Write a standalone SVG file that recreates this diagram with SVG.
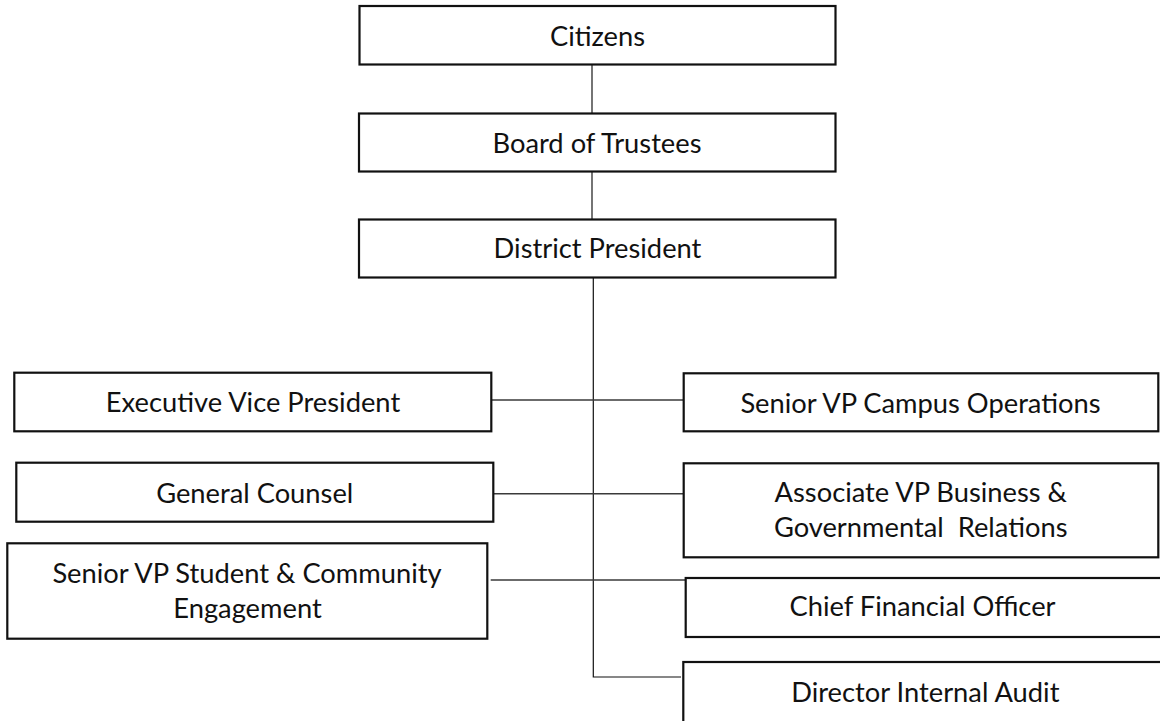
<svg xmlns="http://www.w3.org/2000/svg" width="1160" height="721" viewBox="0 0 1160 721">
<style>
.box{fill:#fff;stroke:#111;stroke-width:2.2}
.lbl{font-family:Lato,"Open Sans","Liberation Sans",sans-serif;font-size:27.3px;fill:#111;text-anchor:middle}
.conn{fill:none;stroke:#3a3a3a;stroke-width:1.4}
</style>
<rect width="1160" height="721" fill="#fff"/>
<g id="connectors">
<line class="conn" x1="592" y1="64.5" x2="592" y2="113.5"/>
<line class="conn" x1="592" y1="171.5" x2="592" y2="219.5"/>
<polyline class="conn" style="stroke:#111;stroke-width:1.2" points="593.3,277.5 593.3,677 681,677"/>
<line class="conn" x1="491" y1="400" x2="684" y2="400"/>
<line class="conn" x1="490.7" y1="493.7" x2="684" y2="493.7"/>
<line class="conn" x1="490.7" y1="580" x2="685.5" y2="580"/>
</g>
<g id="citizens"><rect class="box" x="359.5" y="6" width="476" height="58.5"/><text class="lbl" x="597.5" y="46">Citizens</text></g>
<g id="board"><rect class="box" x="359" y="113.5" width="476.5" height="58"/><text class="lbl" x="597" y="152.7">Board of Trustees</text></g>
<g id="president"><rect class="box" x="359" y="219.5" width="476.5" height="58"/><text class="lbl" x="597.5" y="258.3">District President</text></g>
<g id="evp"><rect class="box" x="14.3" y="372.7" width="477" height="58.6"/><text class="lbl" x="253" y="412.3">Executive Vice President</text></g>
<g id="counsel"><rect class="box" x="16.3" y="462.7" width="477" height="59"/><text class="lbl" x="254.7" y="502.7">General Counsel</text></g>
<g id="svp-student"><rect class="box" x="7.3" y="543.3" width="480" height="95.4"/><text class="lbl" x="247" y="583.3">Senior VP Student &amp; Community</text><text class="lbl" x="247.5" y="618.3">Engagement</text></g>
<g id="svp-campus"><rect class="box" x="683.7" y="373.3" width="474.6" height="58"/><text class="lbl" x="920.5" y="412.7">Senior VP Campus Operations</text></g>
<g id="assoc-vp"><rect class="box" x="683.7" y="463.3" width="474.6" height="94"/><text class="lbl" x="920.8" y="502.3">Associate VP Business &amp;</text><text class="lbl" x="920.7" y="536.7" xml:space="preserve">Governmental  Relations</text></g>
<g id="cfo"><rect class="box" x="685.7" y="578" width="476" height="59"/><text class="lbl" x="922.5" y="615.7">Chief Financial Officer</text></g>
<g id="audit"><rect class="box" x="683.3" y="662" width="484" height="64"/><text class="lbl" x="925.3" y="701.7">Director Internal Audit</text></g>
</svg>
